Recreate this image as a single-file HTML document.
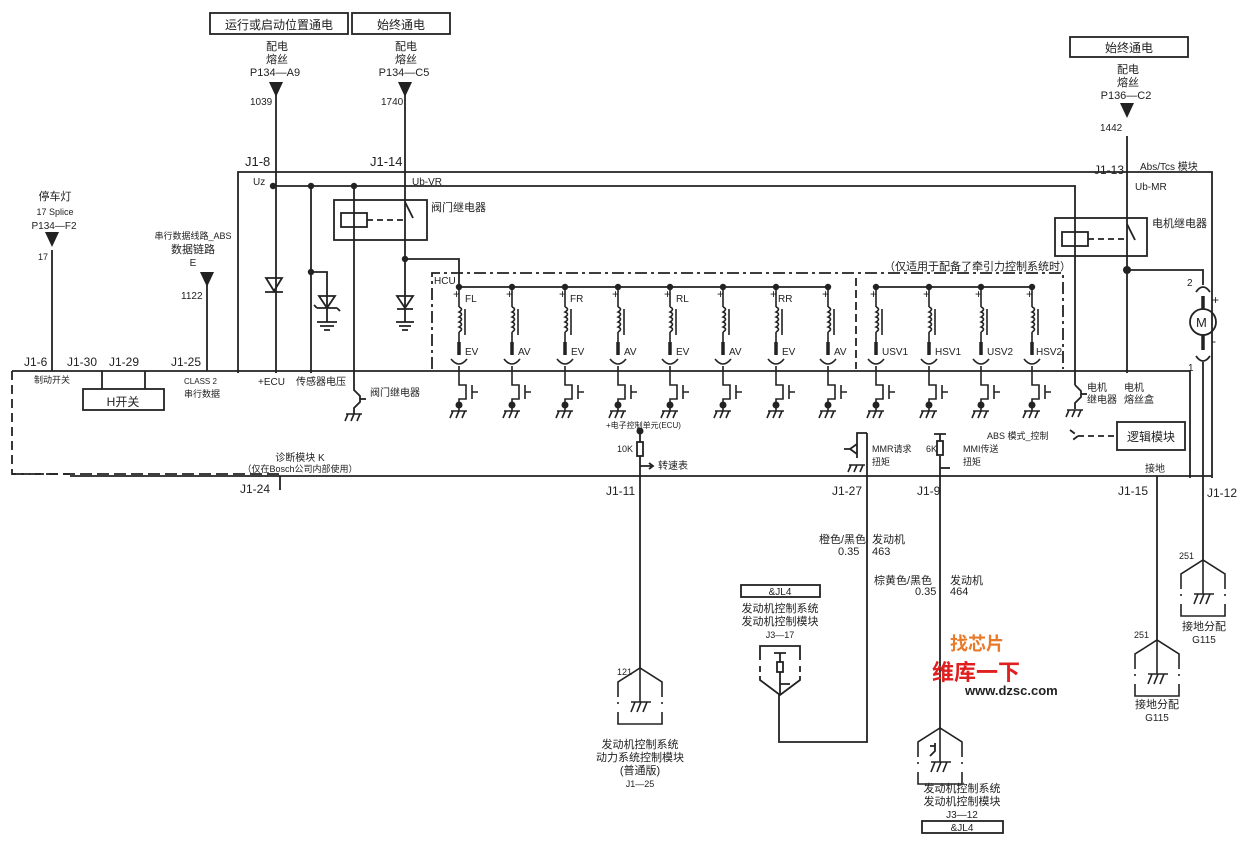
<!DOCTYPE html>
<html><head><meta charset="utf-8">
<style>
html,body{margin:0;padding:0;background:#fff;}
svg{display:block;font-family:"Liberation Sans","Noto Sans CJK SC",sans-serif;}
text{fill:#222;}
</style></head>
<body>
<svg width="1250" height="848" viewBox="0 0 1250 848" xmlns="http://www.w3.org/2000/svg">
<defs>
  <g id="gnd" stroke="#222" stroke-width="1.6" fill="none">
    <path d="M-8,0 H8 M-6,0 L-9,7 M0,0 L-3,7 M6,0 L3,7"/>
  </g>
  <g id="valve" stroke="#222" stroke-width="1.6" fill="none">
    <circle cx="0" cy="0" r="3.2" fill="#222" stroke="none"/>
    <path d="M0,0 V20"/>
    <path d="M0,20 q5,2 0,5 q5,2 0,5 q5,2 0,5 q5,2 0,5 q5,2 0,5"/>
    <path d="M0,45 V55"/>
    <path d="M6,22 V48" />
    <path d="M0,55 V68" stroke-width="3.5"/>
    <path d="M-8,72 q8,10 16,0"/>
    <path d="M0,79 V98 H7 V112 H0 V118"/>
    <path d="M13,98 V112 M13,105 H19"/>
    <circle cx="0" cy="118" r="3.5" fill="#222" stroke="none"/>
    <path d="M0,118 V124"/>
    <use href="#gnd" y="124"/>
    <text x="-6" y="11" font-size="12" stroke="none" fill="#222">+</text>
  </g>
  <g id="gbox" stroke="#222" stroke-width="1.6" fill="none">
    <path d="M-22,35 V20 L0,6 L22,20 V35"/>
    <path d="M-22,40 V45 M22,40 V45" stroke-dasharray="2,3"/>
    <path d="M-22,50 V62 H22 V50"/>
    <path d="M0,6 V40"/>
    <path d="M-9,40 H11 M-5,40 L-9,50 M1,40 L-3,50 M7,40 L3,50"/>
  </g>
  <g id="tri"><path d="M-7,0 H7 L0,15 Z" fill="#222"/></g>
</defs>

<g stroke="#222" stroke-width="1.8" fill="none">
  <rect x="210" y="13" width="138" height="21"/>
  <rect x="352" y="13" width="98" height="21"/>
  <rect x="1070" y="37" width="118" height="20"/>
  <path d="M238,373 V172 H1212 V478"/>
  <path d="M12,371 H1190 V478"/>
  <path d="M70,476 H1212"/>
  <path d="M12,371 V474 H70" stroke-dasharray="9,5"/>
  <path d="M12,474 H280" stroke-dasharray="12,5"/>
  <path d="M276,82 V373"/>
  <path d="M405,82 V259"/>
  <path d="M1127,136 V373"/>
  <path d="M52,250 V371"/>
  <path d="M207,272 V371"/>
  <path d="M273,186 H1075 V385"/>
  <path d="M311,186 V373"/>
  <path d="M354,186 V390 l6,6 v6 l-6,6 v6"/>
  <path d="M360,399 H366"/>
  <use href="#gnd" x="354" y="414"/>
  <path d="M266,278 H282 L274,291 Z M265,292 H283"/>
  <path d="M311,272 H327 V322"/>
  <path d="M319,296 H335 L327,308 Z M317,308 H337 M317,308 l-3,-3 M337,308 l3,3"/>
  <path d="M317,322 H337 M320,326 H334 M324,330 H330"/>
  <rect x="334" y="200" width="93" height="40"/>
  <rect x="341" y="213" width="26" height="14"/>
  <path d="M367,220 H405" stroke-dasharray="6,4"/>
  <path d="M405,202 l8,16"/>
  <path d="M405,259 H459 V287"/>
  <path d="M397,296 H413 L405,308 Z M397,309 H413"/>
  <path d="M405,259 V322 M396,322 H414 M399,326 H411 M402,330 H408"/>
  <path d="M432,369 V273 H1063 V369" stroke-dasharray="12,4,3,4"/>
  <path d="M856,278 V369" stroke-dasharray="8,4"/>
  <path d="M459,287 H828 M876,287 H1032"/>
  <rect x="1055" y="218" width="92" height="38"/>
  <rect x="1062" y="232" width="26" height="14"/>
  <path d="M1088,239 H1127" stroke-dasharray="6,4"/>
  <path d="M1127,224 l8,16"/>
  <path d="M1127,270 H1203 V285"/>
  <path d="M1196,292 q7,-10 14,0"/>
  <path d="M1203,296 V309" stroke-width="3.5"/>
  <circle cx="1203" cy="322" r="13"/>
  <path d="M1203,335 V350" stroke-width="3.5"/>
  <path d="M1196,356 q7,10 14,0"/>
  <path d="M1203,362 V560"/>
  <path d="M1075,385 l6,6 v6 l-6,6 v6"/>
  <path d="M1081,394 H1087"/>
  <use href="#gnd" x="1075" y="410"/>
  <rect x="1117" y="422" width="68" height="28"/>
  <path d="M1070,430 l8,6 l-8,6 M1078,436 H1117" stroke-dasharray="6,4"/>
  <rect x="83" y="389" width="81" height="21"/>
  <path d="M102,371 V389 M145,371 V389"/>
  <path d="M280,476 V490"/>
  <circle cx="640" cy="431" r="3.5" fill="#222" stroke="none"/>
  <path d="M640,431 V442 M640,456 V668"/>
  <rect x="637" y="442" width="6" height="14"/>
  <path d="M640,466 H652 M649,463 L653,466 L649,469" />
  <use href="#gbox" x="640" y="662"/>
  <path d="M867,433 H857 V458 M857,444 l-7,5 l7,5 M844,449 H850"/>
  <use href="#gnd" x="857" y="465"/>
  <path d="M867,433 V742 H779 V695"/>
  <rect x="741" y="585" width="79" height="12"/>
  <path d="M760,660 V646 H800 V660 M760,666 V672 M800,666 V672" />
  <path d="M760,676 V680 L780,695 L800,680 V676"/>
  <path d="M774,653 H786 M780,653 V662 M780,672 V695 M780,684 H790"/>
  <rect x="777" y="662" width="6" height="10"/>
  <path d="M934,434 H946 M940,434 V441 M940,456 V728"/>
  <rect x="937" y="441" width="6" height="14"/>
  <path d="M940,468 H950"/>
  <use href="#gbox" x="940" y="722"/>
  <path d="M930,756 l5,-5 v-8 M935,746 H930" />
  <rect x="922" y="821" width="81" height="12"/>
  <path d="M1157,476 V640"/>
  <use href="#gbox" x="1157" y="634"/>
  <use href="#gbox" x="1203" y="554"/>
</g>
<g fill="#222">
  <use href="#tri" x="276" y="82"/>
  <use href="#tri" x="405" y="82"/>
  <use href="#tri" x="1127" y="103"/>
  <use href="#tri" x="52" y="232"/>
  <use href="#tri" x="207" y="272"/>
  <circle cx="273" cy="186" r="3.2"/><circle cx="311" cy="186" r="3.2"/><circle cx="354" cy="186" r="3.2"/>
  <circle cx="311" cy="272" r="3.2"/><circle cx="405" cy="259" r="3.2"/>
  <circle cx="1127" cy="270" r="4"/>
</g>
<g>
  <use href="#valve" x="459" y="287"/><use href="#valve" x="512" y="287"/>
  <use href="#valve" x="565" y="287"/><use href="#valve" x="618" y="287"/>
  <use href="#valve" x="670" y="287"/><use href="#valve" x="723" y="287"/>
  <use href="#valve" x="776" y="287"/><use href="#valve" x="828" y="287"/>
  <use href="#valve" x="876" y="287"/><use href="#valve" x="929" y="287"/>
  <use href="#valve" x="981" y="287"/><use href="#valve" x="1032" y="287"/>
</g>

<g font-size="11">
  <text x="279" y="29" text-anchor="middle" font-size="12">运行或启动位置通电</text>
  <text x="401" y="29" text-anchor="middle" font-size="12">始终通电</text>
  <text x="1129" y="52" text-anchor="middle" font-size="12">始终通电</text>
  <text x="277" y="50" text-anchor="middle">配电</text>
  <text x="277" y="63" text-anchor="middle">熔丝</text>
  <text x="275" y="76" text-anchor="middle">P134—A9</text>
  <text x="406" y="50" text-anchor="middle">配电</text>
  <text x="406" y="63" text-anchor="middle">熔丝</text>
  <text x="404" y="76" text-anchor="middle">P134—C5</text>
  <text x="1128" y="73" text-anchor="middle">配电</text>
  <text x="1128" y="86" text-anchor="middle">熔丝</text>
  <text x="1126" y="99" text-anchor="middle">P136—C2</text>
  <text x="250" y="105" font-size="10">1039</text>
  <text x="381" y="105" font-size="10">1740</text>
  <text x="1100" y="131" font-size="10">1442</text>
  <text x="245" y="166" font-size="13">J1-8</text>
  <text x="370" y="166" font-size="13">J1-14</text>
  <text x="1094" y="174" font-size="12">J1-13</text>
  <text x="1140" y="170" font-size="10">Abs/Tcs 模块</text>
  <text x="1135" y="190" font-size="10">Ub-MR</text>
  <text x="253" y="185" font-size="10">Uz</text>
  <text x="412" y="185" font-size="10">Ub-VR</text>
  <text x="431" y="211" font-size="11">阀门继电器</text>
  <text x="1152" y="227" font-size="11">电机继电器</text>
  <text x="884" y="270" font-size="11">（仅适用于配备了牵引力控制系统时）</text>
  <text x="434" y="284" font-size="10">HCU</text>
  <text x="1187" y="286" font-size="10">2</text>
  <text x="1212" y="304" font-size="12">+</text>
  <text x="1196" y="327" font-size="13">M</text>
  <text x="1212" y="345" font-size="12">-</text>
  <text x="1188" y="371" font-size="10">1</text>
  <text x="55" y="200" text-anchor="middle" font-size="11">停车灯</text>
  <text x="55" y="215" text-anchor="middle" font-size="9">17 Splice</text>
  <text x="54" y="229" text-anchor="middle" font-size="10">P134—F2</text>
  <text x="38" y="260" font-size="9">17</text>
  <text x="193" y="239" text-anchor="middle" font-size="9">串行数据线路_ABS</text>
  <text x="193" y="253" text-anchor="middle" font-size="11">数据链路</text>
  <text x="193" y="266" text-anchor="middle" font-size="10">E</text>
  <text x="181" y="299" font-size="10">1122</text>
  <text x="24" y="366" font-size="12">J1-6</text>
  <text x="67" y="366" font-size="12">J1-30</text>
  <text x="109" y="366" font-size="12">J1-29</text>
  <text x="171" y="366" font-size="12">J1-25</text>
  <text x="34" y="383" font-size="9">制动开关</text>
  <text x="123" y="406" text-anchor="middle" font-size="12">H开关</text>
  <text x="184" y="384" font-size="8">CLASS 2</text>
  <text x="184" y="397" font-size="9">串行数据</text>
  <text x="258" y="385" font-size="10">+ECU</text>
  <text x="296" y="385" font-size="10">传感器电压</text>
  <text x="370" y="396" font-size="10">阀门继电器</text>
  <text x="300" y="461" text-anchor="middle" font-size="10">诊断模块 K</text>
  <text x="300" y="472" text-anchor="middle" font-size="9">（仅在Bosch公司内部使用）</text>
  <text x="240" y="493" font-size="12">J1-24</text>
  <g font-size="10">
    <text x="465" y="302">FL</text><text x="570" y="302">FR</text>
    <text x="676" y="302">RL</text><text x="778" y="302">RR</text>
    <text x="465" y="355">EV</text><text x="518" y="355">AV</text>
    <text x="571" y="355">EV</text><text x="624" y="355">AV</text>
    <text x="676" y="355">EV</text><text x="729" y="355">AV</text>
    <text x="782" y="355">EV</text><text x="834" y="355">AV</text>
    <text x="882" y="355">USV1</text><text x="935" y="355">HSV1</text>
    <text x="987" y="355">USV2</text><text x="1036" y="355">HSV2</text>
  </g>
  <text x="1087" y="391" font-size="10">电机</text>
  <text x="1087" y="403" font-size="10">继电器</text>
  <text x="1124" y="391" font-size="10">电机</text>
  <text x="1124" y="403" font-size="10">熔丝盒</text>
  <text x="987" y="439" font-size="9">ABS 模式_控制</text>
  <text x="1151" y="441" text-anchor="middle" font-size="12">逻辑模块</text>
  <text x="1145" y="472" font-size="10">接地</text>
  <text x="606" y="428" font-size="8">+电子控制单元(ECU)</text>
  <text x="617" y="452" font-size="9">10K</text>
  <text x="658" y="469" font-size="10">转速表</text>
  <text x="872" y="452" font-size="9">MMR请求</text>
  <text x="872" y="465" font-size="9">扭矩</text>
  <text x="926" y="452" font-size="9">6K</text>
  <text x="963" y="452" font-size="9">MMI传送</text>
  <text x="963" y="465" font-size="9">扭矩</text>
  <text x="606" y="495" font-size="12">J1-11</text>
  <text x="832" y="495" font-size="12">J1-27</text>
  <text x="917" y="495" font-size="12">J1-9</text>
  <text x="1118" y="495" font-size="12">J1-15</text>
  <text x="1207" y="497" font-size="12">J1-12</text>
  <text x="819" y="543" font-size="11">橙色/黑色</text>
  <text x="838" y="555" font-size="11">0.35</text>
  <text x="872" y="543" font-size="11">发动机</text>
  <text x="872" y="555" font-size="11">463</text>
  <text x="874" y="584" font-size="11">棕黄色/黑色</text>
  <text x="915" y="595" font-size="11">0.35</text>
  <text x="950" y="584" font-size="11">发动机</text>
  <text x="950" y="595" font-size="11">464</text>
  <text x="780" y="595" text-anchor="middle" font-size="10">&amp;JL4</text>
  <text x="780" y="612" text-anchor="middle" font-size="11">发动机控制系统</text>
  <text x="780" y="625" text-anchor="middle" font-size="11">发动机控制模块</text>
  <text x="780" y="638" text-anchor="middle" font-size="9">J3—17</text>
  <text x="617" y="675" font-size="9">121</text>
  <text x="640" y="748" text-anchor="middle" font-size="11">发动机控制系统</text>
  <text x="640" y="761" text-anchor="middle" font-size="11">动力系统控制模块</text>
  <text x="640" y="774" text-anchor="middle" font-size="11">(普通版)</text>
  <text x="640" y="787" text-anchor="middle" font-size="9">J1—25</text>
  <text x="962" y="792" text-anchor="middle" font-size="11">发动机控制系统</text>
  <text x="962" y="805" text-anchor="middle" font-size="11">发动机控制模块</text>
  <text x="962" y="818" text-anchor="middle" font-size="10">J3—12</text>
  <text x="962" y="831" text-anchor="middle" font-size="10">&amp;JL4</text>
  <text x="1179" y="559" font-size="9">251</text>
  <text x="1204" y="630" text-anchor="middle" font-size="11">接地分配</text>
  <text x="1204" y="643" text-anchor="middle" font-size="10">G115</text>
  <text x="1134" y="638" font-size="9">251</text>
  <text x="1157" y="708" text-anchor="middle" font-size="11">接地分配</text>
  <text x="1157" y="721" text-anchor="middle" font-size="10">G115</text>
  <text x="950" y="650" font-size="18" font-weight="bold" style="fill:#e87a2a">找芯片</text>
  <text x="932" y="680" font-size="22" font-weight="bold" style="fill:#e02020">维库一下</text>
  <text x="965" y="695" font-size="13" font-weight="bold" style="fill:#222">www.dzsc.com</text>
</g>
</svg>
</body></html>
